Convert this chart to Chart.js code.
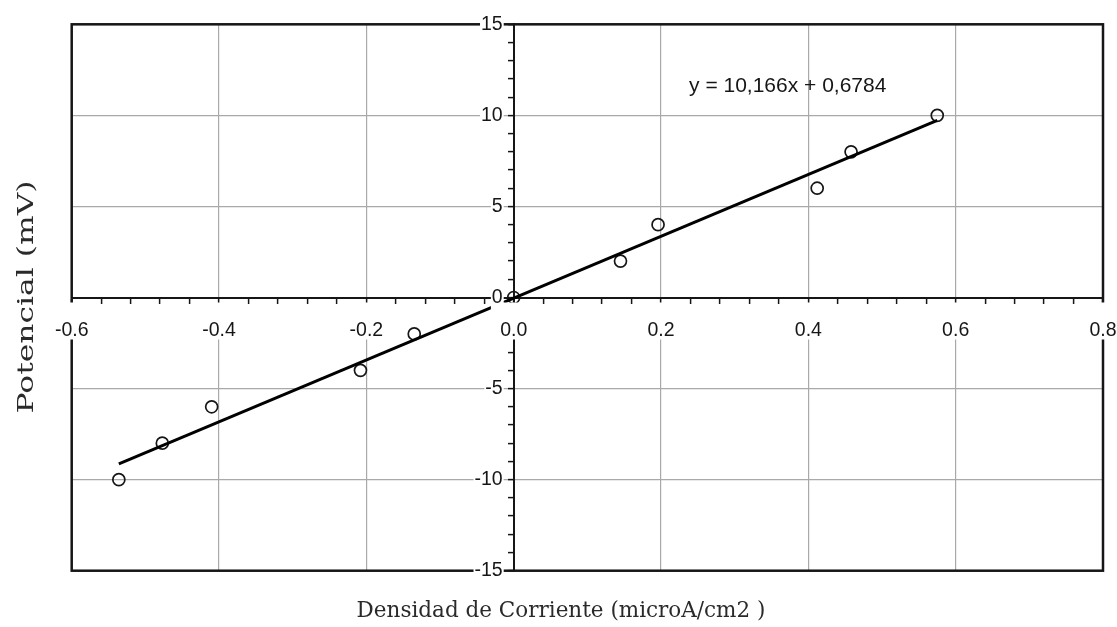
<!DOCTYPE html>
<html>
<head>
<meta charset="utf-8">
<script src="https://cdn.jsdelivr.net/npm/chart.js@4.4.1/dist/chart.umd.min.js"></script>
<style>
  html, body { margin: 0; padding: 0; background: #fff; }
  canvas { display: block; }
</style>
</head>
<body>
<canvas id="grafico" width="1117" height="627"></canvas>
<script>
// Measured points: current density (microA/cm2) vs. potential (mV)
const densidad = [-0.536, -0.477, -0.410, -0.208, -0.135, 0.0, 0.145, 0.196, 0.412, 0.458, 0.575];
const potencial = [-10, -8, -6, -4, -2, 0, 2, 4, 6, 8, 10];

// Axis ticks and their printed labels
const xTickValues = [-0.6, -0.4, -0.2, 0.0, 0.2, 0.4, 0.6, 0.8];
const xTickLabels = ['-0.6', '-0.4', '-0.2', '0.0', '0.2', '0.4', '0.6', '0.8'];
const yTickValues = [-15, -10, -5, 0, 5, 10, 15];
const yTickLabels = ['-15', '-10', '-5', '0', '5', '10', '15'];
const xMinorStep = 0.04;
const yMinorStep = 1;

const ecuacion = 'y = 10,166x + 0,6784';
const tituloX = 'Densidad de Corriente (microA/cm2 )';
const tituloY = 'Potencial (mV)';

// Least-squares trend line through the measured points
function ajusteLineal(xs, ys) {
  const n = xs.length;
  const mx = xs.reduce((a, v) => a + v, 0) / n;
  const my = ys.reduce((a, v) => a + v, 0) / n;
  let sxy = 0, sxx = 0;
  for (let i = 0; i < n; i++) {
    sxy += (xs[i] - mx) * (ys[i] - my);
    sxx += (xs[i] - mx) * (xs[i] - mx);
  }
  const m = sxy / sxx;
  return { m, b: my - m * mx };
}
const recta = ajusteLineal(densidad, potencial);
const xIni = Math.min(...densidad);
const xFin = Math.max(...densidad);
const tendencia = [xIni, xFin].map(x => ({ x, y: recta.m * x + recta.b }));
const puntos = densidad.map((x, i) => ({ x, y: potencial[i] }));

const GRID = '#a9a9a9';
const INK = '#161616';
const SANS = '"Liberation Sans", Arial, sans-serif';
const SERIF = '"DejaVu Serif", "Liberation Serif", serif';
// y labels sit a little to the left of the vertical axis (in x units)
const Y_LABEL_SHIFT = -0.0149;

function indiceMayor(valores, v) {
  return valores.findIndex(t => Math.abs(t - v) < 1e-6);
}
function construirTicks(scale, step) {
  const n = Math.round((scale.max - scale.min) / step);
  const ticks = [];
  for (let i = 0; i <= n; i++) ticks.push({ value: +(scale.min + i * step).toFixed(6) });
  scale.ticks = ticks;
}

// Frame around the plotting area
const marco = {
  id: 'marco',
  beforeDatasetsDraw(chart) {
    const { ctx, chartArea: a } = chart;
    ctx.save();
    ctx.strokeStyle = INK;
    ctx.lineWidth = 2.5;
    ctx.strokeRect(a.left, a.top, a.right - a.left, a.bottom - a.top);
    ctx.restore();
  }
};

// Trend-line equation and the two axis titles
const textos = {
  id: 'textos',
  afterDraw(chart) {
    const { ctx, scales } = chart;
    ctx.save();
    ctx.fillStyle = INK;
    ctx.font = '21px ' + SANS;
    ctx.textAlign = 'center';
    ctx.textBaseline = 'middle';
    ctx.fillText(ecuacion, scales.x.getPixelForValue(0.372), scales.y.getPixelForValue(11.6));

    ctx.fillStyle = '#2a2a2a';
    ctx.font = '21.5px ' + SERIF;
    ctx.textBaseline = 'alphabetic';
    ctx.fillText(tituloX, 561, 617);

    ctx.font = '23px ' + SERIF;
    ctx.textBaseline = 'middle';
    const ancho = ctx.measureText(tituloY).width;
    ctx.translate(27, 297);
    ctx.rotate(-Math.PI / 2);
    ctx.scale(233 / ancho, 1);
    ctx.fillText(tituloY, 0, 0);
    ctx.restore();
  }
};

new Chart(document.getElementById('grafico'), {
  type: 'scatter',
  data: {
    datasets: [
      {
        label: 'Tendencia',
        data: tendencia,
        showLine: true,
        borderColor: '#000',
        borderWidth: 3,
        pointRadius: 0,
        fill: false
      },
      {
        label: 'Medidas',
        data: puntos,
        pointStyle: 'circle',
        pointRadius: 6,
        pointBorderWidth: 1.7,
        pointBorderColor: INK,
        pointBackgroundColor: 'rgba(255,255,255,0)',
        showLine: false
      }
    ]
  },
  options: {
    responsive: false,
    animation: false,
    devicePixelRatio: 1,
    layout: { padding: { left: 71.7, right: 14, top: 24.3, bottom: 56.3 } },
    plugins: { legend: { display: false }, tooltip: { enabled: false } },
    scales: {
      x: {
        type: 'linear',
        min: -0.6,
        max: 0.8,
        position: { y: 0 },
        afterBuildTicks: s => construirTicks(s, xMinorStep),
        grid: {
          color: c => (c.tick && indiceMayor(xTickValues, c.tick.value) >= 0) ? GRID : 'rgba(0,0,0,0)',
          lineWidth: 1.2,
          drawTicks: true,
          tickLength: 5,
          tickColor: INK,
          tickWidth: 1.5
        },
        border: { display: true, color: INK, width: 2 },
        ticks: {
          autoSkip: false,
          maxRotation: 0,
          minRotation: 0,
          padding: 0,
          z: 1,
          color: INK,
          font: { family: SANS, size: 19.5, lineHeight: 56 / 19.5 },
          callback: v => { const i = indiceMayor(xTickValues, v); return i < 0 ? '' : xTickLabels[i]; },
          showLabelBackdrop: c => !!(c.tick && indiceMayor(xTickValues, c.tick.value) >= 0),
          backdropColor: '#fff',
          backdropPadding: { top: 0, bottom: -19, left: 2, right: 2 }
        }
      },
      // vertical axis: line, grid and tick marks
      y: {
        type: 'linear',
        min: -15,
        max: 15,
        position: { x: 0 },
        afterBuildTicks: s => construirTicks(s, yMinorStep),
        grid: {
          color: c => (c.tick && indiceMayor(yTickValues, c.tick.value) >= 0) ? GRID : 'rgba(0,0,0,0)',
          lineWidth: 1.2,
          drawTicks: true,
          tickLength: 5,
          tickColor: INK,
          tickWidth: 1.5
        },
        border: { display: true, color: INK, width: 2 },
        ticks: { display: false }
      },
      // vertical axis: printed values
      yEtiquetas: {
        type: 'linear',
        axis: 'y',
        min: -15,
        max: 15,
        position: { x: Y_LABEL_SHIFT },
        afterBuildTicks: s => { s.ticks = yTickValues.map(value => ({ value })); },
        grid: { display: false },
        border: { display: false },
        ticks: {
          autoSkip: false,
          padding: 0,
          z: 1,
          color: INK,
          font: { family: SANS, size: 19.5 },
          callback: v => { const i = indiceMayor(yTickValues, v); return i < 0 ? '' : yTickLabels[i]; },
          showLabelBackdrop: true,
          backdropColor: '#fff',
          backdropPadding: 1
        }
      }
    }
  },
  plugins: [marco, textos]
});
</script>
</body>
</html>
